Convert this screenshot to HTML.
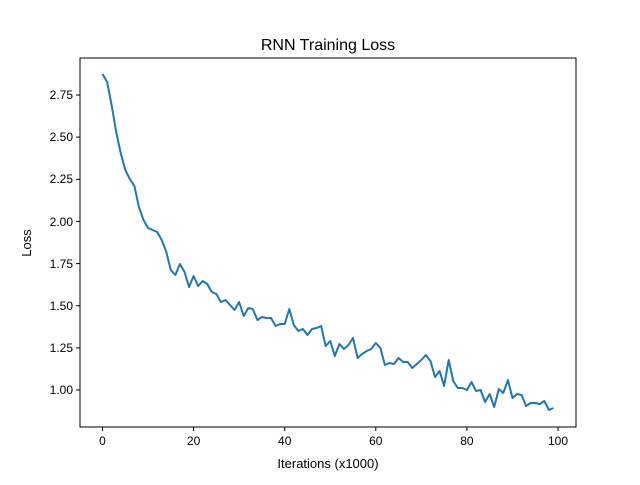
<!DOCTYPE html>
<html><head><style>body{margin:0;background:#fff}</style></head><body>
<svg width="640" height="480" xmlns="http://www.w3.org/2000/svg" font-family="Liberation Sans, DejaVu Sans, sans-serif">
<rect width="640" height="480" fill="#fff"/>
<text x="328" y="50" font-size="16" text-anchor="middle">RNN Training Loss</text>
<polyline id="p" fill="none" stroke="#1f77b4" stroke-width="2" stroke-linejoin="round" points=""/>
<rect x="80" y="58" width="496" height="369" fill="none" stroke="#000" stroke-width="1"/>
<g stroke="#000" stroke-width="1">
<line x1="102.5" y1="427" x2="102.5" y2="431"/><line x1="193.6" y1="427" x2="193.6" y2="431"/><line x1="284.7" y1="427" x2="284.7" y2="431"/><line x1="375.8" y1="427" x2="375.8" y2="431"/><line x1="466.9" y1="427" x2="466.9" y2="431"/><line x1="558" y1="427" x2="558" y2="431"/>
<line x1="76" y1="390" x2="80" y2="390"/><line x1="76" y1="347.9" x2="80" y2="347.9"/><line x1="76" y1="305.7" x2="80" y2="305.7"/><line x1="76" y1="263.6" x2="80" y2="263.6"/><line x1="76" y1="221.4" x2="80" y2="221.4"/><line x1="76" y1="179.3" x2="80" y2="179.3"/><line x1="76" y1="137.1" x2="80" y2="137.1"/><line x1="76" y1="95" x2="80" y2="95"/>
</g>
<g font-size="12" text-anchor="middle">
<text x="102.5" y="445">0</text><text x="193.6" y="445">20</text><text x="284.7" y="445">40</text><text x="375.8" y="445">60</text><text x="466.9" y="445">80</text><text x="558" y="445">100</text>
</g>
<g font-size="12" text-anchor="end">
<text x="73" y="394">1.00</text><text x="73" y="352">1.25</text><text x="73" y="310">1.50</text><text x="73" y="268">1.75</text><text x="73" y="226">2.00</text><text x="73" y="183">2.25</text><text x="73" y="141">2.50</text><text x="73" y="99">2.75</text>
</g>
<text x="328" y="468" font-size="13" text-anchor="middle">Iterations (x1000)</text>
<text transform="translate(31,243) rotate(-90)" font-size="13" text-anchor="middle">Loss</text>
</svg>
<script>
var y=[74,82,105,132,153,170,179,186,207,220,228,230,232,240,252,270,275,264,272,287,276,286,281,284,292,294,302,300,305,310,302,316,308,309,320,317,318,318,326,324,324,309,325,331,329,335,329,328,326,346,341,356,344,349,345,338,358,354,351,349,343,348,365,363,364,358,362,362,368,364,360,355,361,377,371,386,360,381,388,388,390,382,391,390,402,394,407,389,393,380,398,394,395,406,403,403,404,401,410,408];
document.getElementById('p').setAttribute('points',y.map(function(v,i){return (102.5+4.555*i).toFixed(1)+','+v}).join(' '));
</script>
</body></html>
